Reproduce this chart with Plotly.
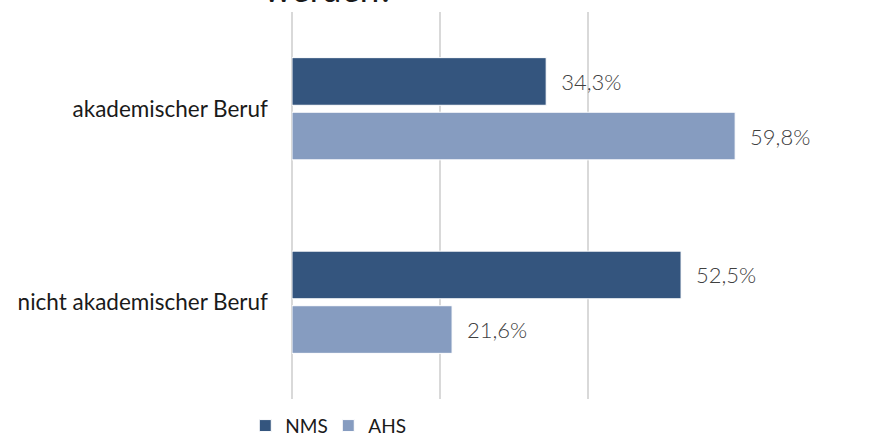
import plotly.graph_objects as go

categories = ["akademischer Beruf", "nicht akademischer Beruf"]
nms_values = [34.3, 52.5]
ahs_values = [59.8, 21.6]
series_names = ["NMS", "AHS"]
title_text = "werden?"

colors = ["#34557E", "#869CC0"]
font_family = "Lato, 'Open Sans', sans-serif"

fig = go.Figure()
for name, vals, col in zip(series_names, [nms_values, ahs_values], colors):
    fig.add_trace(go.Bar(
        y=categories, x=vals, name=name, orientation="h",
        marker=dict(color=col, line=dict(color="white", width=1)),
        texttemplate="\u00a0\u00a0%{x:.1f}%", textposition="outside",
        textfont=dict(size=22, color="#404040", family=font_family, weight=300),
        cliponaxis=False,
    ))

fig.update_layout(
    width=879, height=437,
    margin=dict(l=292, r=142, t=12, b=38, autoexpand=False),
    paper_bgcolor="white", plot_bgcolor="white",
    separators=",.",
    barmode="group", bargap=0.436, bargroupgap=0.127,
    font=dict(family=font_family, color="#1a1a1a"),
    showlegend=True,
    legend=dict(orientation="h", x=-0.105, xanchor="left", y=-0.02, yanchor="top",
                font=dict(size=19, color="#1a1a1a"), itemwidth=30, traceorder="normal",
                entrywidth=38, entrywidthmode="pixels"),
    annotations=[dict(text=title_text, xref="paper", yref="paper", x=-0.067, xanchor="left",
                      y=1.0, yanchor="bottom", yshift=1, showarrow=False,
                      font=dict(size=35, color="#1a1a1a", family=font_family))],
)
fig.update_xaxes(range=[0, 60.05], dtick=20, showticklabels=False, showgrid=True,
                 gridcolor="#D9D9D9", gridwidth=1.5, zeroline=True, zerolinecolor="#D9D9D9",
                 zerolinewidth=1.5, showline=False, ticks="")
fig.update_yaxes(autorange="reversed", showgrid=False, showline=False, ticks="",
                 ticklabelstandoff=23, tickfont=dict(size=22.5, color="#1a1a1a"))

fig.write_html("out.html", config={"displayModeBar": False},
               post_script="document.body.style.margin='0';")
